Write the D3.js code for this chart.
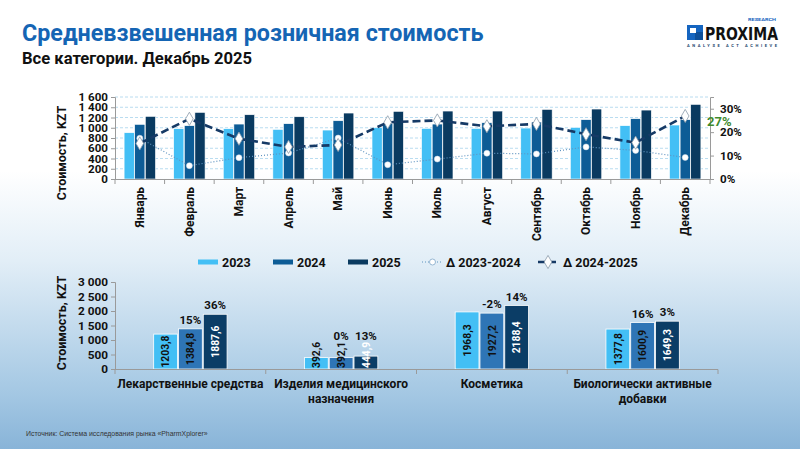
<!DOCTYPE html>
<html>
<head>
<meta charset="utf-8">
<script src="https://cdn.jsdelivr.net/npm/d3@7"></script>
<style>
  body { margin: 0; padding: 0; }
  svg { display: block; font-family: Roboto, "Liberation Sans", sans-serif; }
</style>
</head>
<body>
<svg id="chart" width="800" height="449"></svg>
<script>
// data
var months = ["Январь","Февраль","Март","Апрель","Май","Июнь","Июль","Август","Сентябрь","Октябрь","Ноябрь","Декабрь"];
var years = ["2023","2024","2025"];
var price2023 = [903, 981, 981, 968, 955, 1000, 988, 988, 994, 1007, 1040, 1053];
var price2024 = [1066, 1040, 1072, 1079, 1137, 1080, 1072, 1098, 1111, 1157, 1176, 1157];
var price2025 = [1222, 1300, 1254, 1215, 1287, 1320, 1326, 1326, 1358, 1365, 1345, 1456];
var delta2324 = [0.174, 0.057, 0.091, 0.111, 0.175, 0.061, 0.085, 0.110, 0.107, 0.137, 0.122, 0.092];
var delta2425 = [0.152, 0.257, 0.172, 0.137, 0.145, 0.242, 0.250, 0.225, 0.235, 0.191, 0.155, 0.269];
var leftTicks = [0, 200, 400, 600, 800, 1000, 1200, 1400, 1600];
var rightTicks = [0, 0.1, 0.2, 0.3];

var categories = [["Лекарственные средства"], ["Изделия медицинского","назначения"], ["Косметика"], ["Биологически активные","добавки"]];
var cat2023 = [1203.8, 392.6, 1968.3, 1377.8];
var cat2024 = [1384.8, 392.1, 1927.2, 1600.9];
var cat2025 = [1887.6, 444.9, 2188.4, 1649.3];
var catPct2024 = ["15%", "0%", "-2%", "16%"];
var catPct2025 = ["36%", "13%", "14%", "3%"];
var bottomTicks = [0, 500, 1000, 1500, 2000, 2500, 3000];

var svg = d3.select("#chart");
var loc = d3.formatLocale({decimal: ",", thousands: " ", grouping: [3], currency: ["", ""]});
var fmtThousands = loc.format(",d");
var fmtValue = loc.format(".1f");

// background
var defs = svg.append("defs");
var grad = defs.append("linearGradient").attr("id","bg").attr("x1",0).attr("y1",0).attr("x2",0).attr("y2",1);
grad.append("stop").attr("offset","0%").attr("stop-color","#ffffff");
grad.append("stop").attr("offset","38%").attr("stop-color","#ffffff");
grad.append("stop").attr("offset","58%").attr("stop-color","#e2eef7");
grad.append("stop").attr("offset","88%").attr("stop-color","#a3c7e3");
grad.append("stop").attr("offset","100%").attr("stop-color","#88b4d8");
svg.append("rect").attr("width",800).attr("height",449).attr("fill","url(#bg)");

// titles
svg.append("text").attr("x",22).attr("y",41).text("Средневзвешенная розничная стоимость")
   .attr("font-size",23.3).attr("font-weight","bold").attr("fill","#1565b4");
svg.append("text").attr("x",22).attr("y",64).text("Все категории. Декабрь 2025")
   .attr("font-size",16.6).attr("font-weight","bold").attr("fill","#111");

// logo
var logo = svg.append("g");
logo.append("rect").attr("x",687).attr("y",25).attr("width",16).attr("height",15).attr("fill","#1565c0");
logo.append("rect").attr("x",695).attr("y",32).attr("width",8).attr("height",8).attr("fill","#0d4f9a");
logo.append("rect").attr("x",690).attr("y",28).attr("width",6).attr("height",5).attr("fill","#ffffff");
logo.append("text").attr("x",705).attr("y",40).text("PROXIMA").attr("font-size",18).attr("font-weight","bold")
   .attr("font-family","'DejaVu Sans Condensed', sans-serif").attr("fill","#111")
   .attr("textLength",73).attr("lengthAdjust","spacingAndGlyphs");
logo.append("text").attr("x",748).attr("y",21).text("RESEARCH").attr("font-size",4).attr("font-weight","bold")
   .attr("fill","#1565c0").attr("textLength",28).attr("lengthAdjust","spacingAndGlyphs");
logo.append("text").attr("x",687).attr("y",47).text("ANALYSE  ACT  ACHIEVE").attr("font-size",4).attr("font-weight","bold")
   .attr("fill","#1a3f6b").attr("textLength",90).attr("lengthAdjust","spacing");

var colors = ["#43bff5", "#0d5c96", "#0a3a60"];
var colorsBottom = ["#43bff5", "#2e75b6", "#0b3d66"];

// ---------- top chart ----------
var x0 = d3.scaleBand().domain(months).range([115, 710]).paddingInner(0.35).paddingOuter(0.175);
var x1 = d3.scaleBand().domain(years).range([0, x0.bandwidth()]).padding(0.04);
var yL = d3.scaleLinear().domain([0, 1600]).range([179, 97]);
var yR = d3.scaleLinear().domain([0, 0.35]).range([179, 97]);

var topG = svg.append("g");

// gridlines
topG.selectAll(".grid").data(leftTicks.slice(1)).enter().append("line")
   .attr("x1",115).attr("x2",710)
   .attr("y1",function(d){return yL(d);}).attr("y2",function(d){return yL(d);})
   .attr("stroke","#b9dcf0").attr("stroke-width",1).attr("stroke-dasharray","3,2");

var topRows = months.map(function(m,i){return {m:m, v:[price2023[i], price2024[i], price2025[i]]};});
var groups = topG.selectAll(".grp").data(topRows).enter().append("g")
   .attr("transform",function(d){return "translate(" + x0(d.m) + ",0)";});
groups.selectAll("rect").data(function(d){return d.v.map(function(v,j){return {y:years[j], v:v, j:j};});})
   .enter().append("rect")
   .attr("x",function(d){return x1(d.y);})
   .attr("y",function(d){return yL(d.v);})
   .attr("width",x1.bandwidth())
   .attr("height",function(d){return yL(0) - yL(d.v);})
   .attr("fill",function(d){return colors[d.j];})
   .attr("stroke","#ffffff").attr("stroke-width",0.6);

// axes
var axL = topG.append("g").attr("transform","translate(115,0)")
   .call(d3.axisLeft(yL).tickValues(leftTicks).tickSize(4).tickFormat(fmtThousands));
axL.select(".domain").attr("stroke","#9a9a9a");
axL.selectAll(".tick line").attr("stroke","#9a9a9a");
axL.selectAll("text").attr("font-size",11.6).attr("font-weight","bold").attr("fill","#111").attr("x",-7)
   .attr("font-family","Roboto, sans-serif");

var axR = topG.append("g").attr("transform","translate(710,0)")
   .call(d3.axisRight(yR).tickValues(rightTicks).tickSize(4).tickFormat(d3.format(".0%")));
axR.select(".domain").attr("stroke","#9a9a9a");
axR.selectAll(".tick line").attr("stroke","#9a9a9a");
axR.selectAll("text").attr("font-size",11.6).attr("font-weight","bold").attr("fill","#111").attr("x",10)
   .attr("font-family","Roboto, sans-serif");

topG.append("line").attr("x1",115).attr("x2",710).attr("y1",179.5).attr("y2",179.5).attr("stroke","#9a9a9a");
var bounds = months.map(function(m){return x0(m) - x0.step()*0.175;}).concat([710]);
topG.selectAll(".xt").data(bounds).enter().append("line")
   .attr("x1",function(d){return d;}).attr("x2",function(d){return d;})
   .attr("y1",179.5).attr("y2",184).attr("stroke","#9a9a9a");

topG.selectAll(".mlab").data(months).enter().append("text")
   .attr("transform",function(d){return "translate(" + (x0(d) + x0.bandwidth()/2) + ",187) rotate(-90)";})
   .attr("text-anchor","end").attr("dy","0.35em")
   .attr("font-size",12).attr("font-weight","bold").attr("fill","#111")
   .text(function(d){return d;});

topG.append("text").attr("transform","translate(66,153) rotate(-90)").attr("text-anchor","middle")
   .attr("font-size",12.5).attr("font-weight","bold").attr("fill","#111").text("Стоимость, KZT");

// lines
var cx = function(i){return x0(months[i]) + x0.bandwidth()/2;};
var lineGen = d3.line().x(function(d,i){return cx(i);}).y(function(d){return yR(d);});
topG.append("path").datum(delta2324).attr("d",lineGen).attr("fill","none")
   .attr("stroke","#5f93c0").attr("stroke-width",1.2).attr("stroke-dasharray","1,2");
topG.append("path").datum(delta2425).attr("d",lineGen).attr("fill","none")
   .attr("stroke","#163a66").attr("stroke-width",2.6).attr("stroke-dasharray","8,4");
topG.selectAll(".c1").data(delta2324).enter().append("circle")
   .attr("cx",function(d,i){return cx(i);}).attr("cy",function(d){return yR(d);}).attr("r",3)
   .attr("fill","#ffffff").attr("stroke","#d0dbe6").attr("stroke-width",0.5);
var diamond = d3.symbol().type(d3.symbolDiamond).size(50);
topG.selectAll(".c2").data(delta2425).enter().append("path")
   .attr("d",diamond)
   .attr("transform",function(d,i){return "translate(" + cx(i) + "," + yR(d) + ")";})
   .attr("fill","#ffffff").attr("stroke","#8a9aaa").attr("stroke-width",0.8);

topG.append("text").attr("x",707).attr("y",126).text(d3.format(".0%")(delta2425[11]))
   .attr("font-size",13).attr("font-weight","bold").attr("fill","#3f8a2e");

// legend
var leg = svg.append("g");
var legX = [198, 273, 348];
years.forEach(function(y,i){
  leg.append("rect").attr("x",legX[i]).attr("y",259.5).attr("width",20).attr("height",5).attr("fill",colors[i]);
  leg.append("text").attr("x",legX[i] + 24).attr("y",266.5).text(y)
     .attr("font-size",12.5).attr("font-weight","bold").attr("fill","#111");
});
leg.append("line").attr("x1",422).attr("x2",443).attr("y1",262).attr("y2",262)
   .attr("stroke","#5f93c0").attr("stroke-width",1.2).attr("stroke-dasharray","1,2");
leg.append("circle").attr("cx",432.5).attr("cy",262).attr("r",3).attr("fill","#fff").attr("stroke","#7fa6c8").attr("stroke-width",0.8);
leg.append("text").attr("x",446).attr("y",266.5).text("Δ 2023-2024").attr("font-size",12.5).attr("font-weight","bold").attr("fill","#111");
leg.append("line").attr("x1",538).attr("x2",560).attr("y1",262).attr("y2",262)
   .attr("stroke","#163a66").attr("stroke-width",2.6).attr("stroke-dasharray","7,4");
leg.append("path").attr("d",diamond).attr("transform","translate(548,262)").attr("fill","#fff").attr("stroke","#8a9aaa").attr("stroke-width",0.8);
leg.append("text").attr("x",563).attr("y",266.5).text("Δ 2024-2025").attr("font-size",12.5).attr("font-weight","bold").attr("fill","#111");

// ---------- bottom chart ----------
var bx0 = d3.scaleBand().domain(d3.range(categories.length)).range([115, 718]).paddingInner(0.5).paddingOuter(0.25);
var bx1 = d3.scaleBand().domain(years).range([0, bx0.bandwidth()]).padding(0.04);
var by = d3.scaleLinear().domain([0, 3000]).range([369, 282]);

var bot = svg.append("g");
var botRows = categories.map(function(c,i){
  return {i:i, v:[cat2023[i], cat2024[i], cat2025[i]], p:[null, catPct2024[i], catPct2025[i]]};
});
var bgroups = bot.selectAll(".bgrp").data(botRows).enter().append("g")
   .attr("transform",function(d){return "translate(" + bx0(d.i) + ",0)";});
var bars = bgroups.selectAll(".bar").data(function(d){
    return d.v.map(function(v,j){return {y:years[j], v:v, j:j, p:d.p[j]};});
  }).enter().append("g");
bars.append("rect")
   .attr("x",function(d){return bx1(d.y);})
   .attr("y",function(d){return by(d.v);})
   .attr("width",bx1.bandwidth())
   .attr("height",function(d){return by(0) - by(d.v);})
   .attr("fill",function(d){return colorsBottom[d.j];})
   .attr("stroke","#ffffff").attr("stroke-width",0.8);

// value labels: centred in the bar, pushed up from the base when the bar is short
bars.append("text")
   .attr("text-anchor","middle").attr("dy","0.36em")
   .attr("font-size",10.3).attr("font-weight","bold")
   .attr("fill",function(d){return d.j === 2 ? "#ffffff" : "#111";})
   .text(function(d){return fmtValue(d.v);})
   .each(function(d){
     var len = this.getComputedTextLength();
     var mid = (by(d.v) + by(0))/2;
     var cy = Math.min(mid, by(0) - len/2 - 1);
     d.labTop = cy - len/2;
     d3.select(this).attr("transform","translate(" + (bx1(d.y) + bx1.bandwidth()/2) + "," + cy + ") rotate(-90)");
   });

bars.filter(function(d){return d.p !== null;}).append("text")
   .attr("x",function(d){return bx1(d.y) + bx1.bandwidth()/2;})
   .attr("y",function(d){return Math.min(by(d.v) - 5, d.labTop - 1.5);})
   .attr("text-anchor","middle")
   .attr("font-size",11.5).attr("font-weight","bold").attr("fill","#111")
   .text(function(d){return d.p;});

var bAx = bot.append("g").attr("transform","translate(115,0)")
   .call(d3.axisLeft(by).tickValues(bottomTicks).tickSize(4).tickFormat(fmtThousands));
bAx.select(".domain").attr("stroke","#9a9a9a");
bAx.selectAll(".tick line").attr("stroke","#9a9a9a");
bAx.selectAll("text").attr("font-size",11.8).attr("font-weight","bold").attr("fill","#111").attr("x",-7)
   .attr("font-family","Roboto, sans-serif");

bot.append("line").attr("x1",115).attr("x2",718).attr("y1",369.5).attr("y2",369.5).attr("stroke","#9a9a9a");
var bbounds = d3.range(categories.length).map(function(i){return bx0(i) - bx0.step()*0.25;}).concat([718]);
bot.selectAll(".bxt").data(bbounds).enter().append("line")
   .attr("x1",function(d){return d;}).attr("x2",function(d){return d;})
   .attr("y1",369.5).attr("y2",374).attr("stroke","#9a9a9a");

bot.selectAll(".clab").data(categories).enter().append("text")
   .attr("text-anchor","middle").attr("font-size",12).attr("font-weight","bold").attr("fill","#111")
   .each(function(d,i){
     var t = d3.select(this);
     d.forEach(function(line,k){
       t.append("tspan").attr("x",bx0(i) + bx0.bandwidth()/2).attr("y",388 + k*15).text(line);
     });
   });

bot.append("text").attr("transform","translate(66,323) rotate(-90)").attr("text-anchor","middle")
   .attr("font-size",12.5).attr("font-weight","bold").attr("fill","#111").text("Стоимость, KZT");

// source
svg.append("text").attr("x",26).attr("y",436).text("Источник: Система исследования рынка «PharmXplorer»")
   .attr("font-size",6.9).attr("fill","#333").attr("font-family","'Liberation Sans', Arial, sans-serif");
</script>
</body>
</html>
